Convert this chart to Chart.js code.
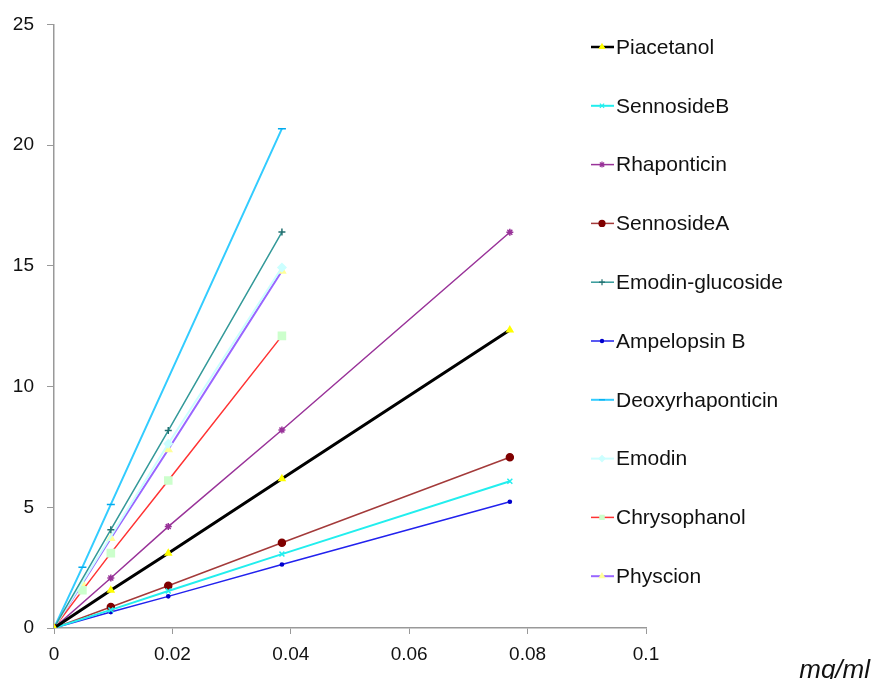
<!DOCTYPE html>
<html>
<head>
<meta charset="utf-8">
<script src="https://cdn.jsdelivr.net/npm/chart.js@4/dist/chart.umd.min.js"></script>
<style>
  html, body { margin: 0; padding: 0; background: #fff; }
  #wrap { width: 873px; height: 679px; position: relative; }
</style>
</head>
<body>
<div id="wrap"><canvas id="chart" width="873" height="679"></canvas></div>
<script>
// concentration (mg/ml) shared by all series, null = no point drawn
const concentrations = [0, 0.0048, 0.0096, 0.0193, 0.0385, 0.077]

const piacetanol       = [0, null, 1.56, 3.10, 6.18, 12.34]
const sennosideB       = [0, null, 0.75, 1.53, 3.06, 6.08]
const rhaponticin      = [0, null, 2.07, 4.20, 8.20, 16.39]
const sennosideA       = [0, null, 0.87, 1.75, 3.53, 7.07]
const emodinGlucoside  = [0, null, 4.07, 8.18, 16.40, null]
const ampelopsinB      = [0, null, 0.66, 1.31, 2.63, 5.23]
const deoxyrhaponticin = [0, 2.52, 5.12, null, 20.68, null]
const emodin           = [0, null, null, 7.63, 14.93, null]
const chrysophanol     = [0, 1.56, 3.10, 6.11, 12.10, null]
const physcion         = [0, 1.84, 3.72, 7.39, 14.79, null]

const xTicks = [0, 0.02, 0.04, 0.06, 0.08, 0.1]
const yTicks = [0, 5, 10, 15, 20, 25]

const toPoints = (values) => concentrations
    .map((x, i) => ({ x, y: values[i] }))
    .filter(p => p.y !== null)

const series = [
    { label: 'Piacetanol', values: piacetanol, line: '#000000', width: 3, marker: 'triangle', fill: '#ffff00', edge: '#ffff00', r: 3.5 },
    { label: 'SennosideB', values: sennosideB, line: '#22eeee', width: 2, marker: 'crossRot', fill: '#22eeee', edge: '#22eeee', r: 3.5 },
    { label: 'Rhaponticin', values: rhaponticin, line: '#993399', width: 1.5, marker: 'star', fill: '#993399', edge: '#993399', r: 3.5 },
    { label: 'SennosideA', values: sennosideA, line: '#a33a3a', width: 1.5, marker: 'circle', fill: '#800000', edge: '#800000', r: 3.5 },
    { label: 'Emodin-glucoside', values: emodinGlucoside, line: '#339999', width: 1.5, marker: 'cross', fill: '#226f6f', edge: '#226f6f', r: 3.5 },
    { label: 'Ampelopsin B', values: ampelopsinB, line: '#2222ee', width: 1.5, marker: 'circle', fill: '#0000cc', edge: '#0000cc', r: 1.6 },
    { label: 'Deoxyrhaponticin', values: deoxyrhaponticin, line: '#33ccff', width: 2, marker: 'line', fill: '#00aaee', edge: '#00aaee', r: 4 },
    { label: 'Emodin', values: emodin, line: '#ccffff', width: 2, marker: 'rectRot', fill: '#ccffff', edge: '#ccffff', r: 4 },
    { label: 'Chrysophanol', values: chrysophanol, line: '#ff3333', width: 1.5, marker: 'rect', fill: '#ccffcc', edge: '#ccffcc', r: 5 },
    { label: 'Physcion', values: physcion, line: '#9966ff', width: 2, marker: 'triangle', fill: '#ffff99', edge: '#ffff99', r: 4 }
]

// legend on the right, line sample with marker in the middle
const sideLegend = {
    id: 'sideLegend',
    afterDraw(chart) {
        const ctx = chart.ctx
        ctx.save()
        chart.data.datasets.forEach((ds, i) => {
            const y = 47 + i * 58.8
            ctx.strokeStyle = ds.borderColor
            ctx.lineWidth = Math.min(Math.max(ds.borderWidth, 1.5), 2.5)
            ctx.beginPath()
            ctx.moveTo(591, y)
            ctx.lineTo(614, y)
            ctx.stroke()
            ctx.fillStyle = ds.pointBackgroundColor
            ctx.strokeStyle = ds.pointBorderColor
            ctx.lineWidth = 1.2
            Chart.helpers.drawPoint(ctx, {
                pointStyle: ds.pointStyle,
                radius: Math.min(ds.pointRadius, 3),
                borderWidth: 1.2,
                rotation: 0
            }, 602, y)
            ctx.fillStyle = '#111'
            ctx.font = '21px "Liberation Sans", Arial, sans-serif'
            ctx.textBaseline = 'middle'
            ctx.textAlign = 'left'
            ctx.fillText(ds.label, 616, y + 1)
        })
        // unit label in the bottom right corner
        ctx.font = 'italic 26px "Liberation Sans", Arial, sans-serif'
        ctx.textAlign = 'right'
        ctx.textBaseline = 'alphabetic'
        ctx.fillText('mg/ml', 870, 678)
        ctx.restore()
    }
}

const ctx = document.getElementById('chart').getContext('2d')

new Chart(ctx, {
    type: 'scatter',
    data: {
        datasets: series.map(s => ({
            label: s.label,
            data: toPoints(s.values),
            showLine: true,
            borderColor: s.line,
            borderWidth: s.width,
            pointStyle: s.marker,
            pointBackgroundColor: s.fill,
            pointBorderColor: s.edge,
            pointBorderWidth: 1.5,
            pointRadius: s.r,
            tension: 0
        }))
    },
    options: {
        responsive: false,
        animation: false,
        layout: { padding: { top: 23, right: 227, left: 0, bottom: 0 } },
        plugins: {
            legend: { display: false },
            tooltip: { enabled: false }
        },
        scales: {
            x: {
                type: 'linear',
                min: 0,
                max: 0.1,
                afterBuildTicks: (axis) => { axis.ticks = xTicks.map(v => ({ value: v })) },
                afterFit: (axis) => { axis.height = 51 },
                ticks: {
                    color: '#111',
                    padding: 9,
                    font: { family: '"Liberation Sans", Arial, sans-serif', size: 19 },
                    callback: (v) => String(v)
                },
                grid: { drawOnChartArea: false, drawTicks: true, tickLength: 6, color: '#999' },
                border: { color: '#999', width: 1.5 }
            },
            y: {
                type: 'linear',
                min: 0,
                max: 25,
                afterBuildTicks: (axis) => { axis.ticks = yTicks.map(v => ({ value: v })) },
                afterFit: (axis) => { axis.width = 54 },
                ticks: {
                    color: '#111',
                    padding: 13,
                    font: { family: '"Liberation Sans", Arial, sans-serif', size: 19 }
                },
                grid: { drawOnChartArea: false, drawTicks: true, tickLength: 7, color: '#999' },
                border: { color: '#999', width: 1.5 }
            }
        }
    },
    plugins: [sideLegend]
})
</script>
</body>
</html>
